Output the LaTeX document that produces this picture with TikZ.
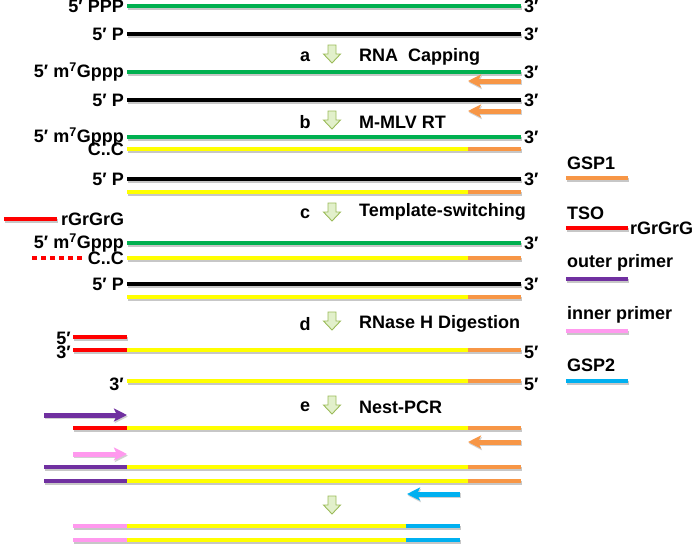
\documentclass[tikz,border=0pt]{standalone}
\usepackage{fontspec}
\setmainfont{Liberation Sans}
\usetikzlibrary{arrows.meta}
\definecolor{rnagreen}{HTML}{00B050}
\definecolor{cdnayellow}{HTML}{FFFF00}
\definecolor{gsporange}{HTML}{F79646}
\definecolor{tsored}{HTML}{FF0000}
\definecolor{outerpurple}{HTML}{7030A0}
\definecolor{innerpink}{HTML}{FF99EE}
\definecolor{gspblue}{HTML}{00B0F0}
\definecolor{stepfill}{HTML}{E2F0CB}
\definecolor{stepedge}{HTML}{9BBB59}

\tikzset{
  strand/.style={line width=4pt, line cap=butt,
    preaction={draw=black!22, line width=4pt,
      transform canvas={shift={(0.8pt,-1.6pt)}}}},
  primer/.style={line width=5pt, -{Stealth[length=13pt,width=13pt,inset=3pt]},
    preaction={draw=black!18, line width=5pt,
      transform canvas={shift={(0.8pt,-1.6pt)}}}},
  lbl/.style={font=\bfseries\fontsize{18}{21}\selectfont, inner sep=1pt},
  steparrow/.pic={
    \draw[stepedge, fill=stepfill, line width=0.9pt, line join=miter]
      (-4,-9) -- (4,-9) -- (4,0) -- (8.5,0) -- (0,9) -- (-8.5,0) -- (-4,0) -- cycle;}
}

\begin{document}
\begin{tikzpicture}[x=1pt, y=-1pt]
  \useasboundingbox (0,0) rectangle (692,549);

  % RNA before capping
  \draw[strand, rnagreen] (127,6) -- (521,6);
  \node[lbl, anchor=east] (l1) at (125,6) {5′ PPP};
  \node[lbl, anchor=west] (r1) at (523,6) {3′};
  \draw[strand, black] (127,34) -- (521,34);
  \node[lbl, anchor=east] (l2) at (125,34) {5′ P};
  \node[lbl, anchor=west] (r2) at (523,34) {3′};

  % step arrows
  \foreach \yy in {54,120,212,321,405,505}
    \pic at (332,\yy) {steparrow};

  \node[lbl] (sa) at (305,57) {a};
  \node[lbl, anchor=west] (ta) at (358,57) {RNA\ \ Capping};

  % capped RNA
  \draw[strand, rnagreen] (127,72) -- (521,72);
  \node[lbl, anchor=east] (l3) at (125,72) {5′ m\textsuperscript{7}Gppp};
  \node[lbl, anchor=west] (r3) at (523,72) {3′};
  \draw[primer, gsporange] (521,81) -- (468,81);
  \draw[strand, black] (127,100) -- (521,100);
  \node[lbl, anchor=east] (l4) at (125,100) {5′ P};
  \node[lbl, anchor=west] (r4) at (523,100) {3′};
  \draw[primer, gsporange] (521,111) -- (468,111);

  \node[lbl] (sb) at (305,122) {b};
  \node[lbl, anchor=west] (tb) at (358,122) {M-MLV RT};

  % reverse transcription
  \draw[strand, rnagreen] (127,137) -- (521,137);
  \node[lbl, anchor=east] (l5) at (125,137) {5′ m\textsuperscript{7}Gppp};
  \node[lbl, anchor=west] (r5) at (523,137) {3′};
  \draw[strand, cdnayellow] (127,149) -- (468,149);
  \draw[strand, gsporange] (468,149) -- (521,149);
  \node[lbl, anchor=east] (l6) at (125,149) {C..C};
  \draw[strand, black] (127,179) -- (521,179);
  \node[lbl, anchor=east] (l7) at (125,179) {5′ P};
  \node[lbl, anchor=west] (r7) at (523,179) {3′};
  \draw[strand, cdnayellow] (127,192) -- (468,192);
  \draw[strand, gsporange] (468,192) -- (521,192);

  \node[lbl] (sc) at (305,214) {c};
  \node[lbl, anchor=west] (tc) at (358,212) {Template-switching};
  \draw[strand, tsored] (4,219) -- (57,219);
  \node[lbl, anchor=west] (tso1) at (60,219) {rGrGrG};

  % template switching
  \draw[strand, rnagreen] (127,243) -- (521,243);
  \node[lbl, anchor=east] (l8) at (125,243) {5′ m\textsuperscript{7}Gppp};
  \node[lbl, anchor=west] (r8) at (523,243) {3′};
  \draw[line width=4pt, tsored, dash pattern=on 5pt off 4pt] (32,258) -- (82,258);
  \draw[strand, cdnayellow] (127,258) -- (468,258);
  \draw[strand, gsporange] (468,258) -- (521,258);
  \node[lbl, anchor=east] (l9) at (125,258) {C..C};
  \draw[strand, black] (127,284) -- (521,284);
  \node[lbl, anchor=east] (l10) at (125,284) {5′ P};
  \node[lbl, anchor=west] (r10) at (523,284) {3′};
  \draw[strand, cdnayellow] (127,297) -- (468,297);
  \draw[strand, gsporange] (468,297) -- (521,297);

  \node[lbl] (sd) at (305,324) {d};
  \node[lbl, anchor=west] (td) at (358,324) {RNase H Digestion};

  % after digestion
  \draw[strand, tsored] (73,337) -- (127,337);
  \node[lbl, anchor=east] (l11) at (72,338) {5′};
  \draw[strand, tsored] (73,350) -- (127,350);
  \draw[strand, cdnayellow] (127,350) -- (468,350);
  \draw[strand, gsporange] (468,350) -- (521,350);
  \node[lbl, anchor=east] (l12) at (72,352) {3′};
  \node[lbl, anchor=west] (r12) at (523,352) {5′};
  \draw[strand, cdnayellow] (127,381) -- (468,381);
  \draw[strand, gsporange] (468,381) -- (521,381);
  \node[lbl, anchor=east] (l13) at (125,384) {3′};
  \node[lbl, anchor=west] (r13) at (523,384) {5′};

  \node[lbl] (se) at (305,407) {e};
  \node[lbl, anchor=west] (te) at (358,407) {Nest-PCR};

  % first PCR
  \draw[primer, outerpurple] (44,415) -- (127,415);
  \draw[strand, tsored] (73,428) -- (127,428);
  \draw[strand, cdnayellow] (127,428) -- (468,428);
  \draw[strand, gsporange] (468,428) -- (521,428);
  \draw[primer, gsporange] (521,442) -- (468,442);

  % second PCR
  \draw[primer, innerpink] (73,454) -- (127,454);
  \foreach \yy in {467,481} {
    \draw[strand, outerpurple] (44,\yy) -- (127,\yy);
    \draw[strand, cdnayellow] (127,\yy) -- (468,\yy);
    \draw[strand, gsporange] (468,\yy) -- (521,\yy);
  }
  \draw[primer, gspblue] (460,494) -- (407,494);

  % product
  \foreach \yy in {526,540} {
    \draw[strand, innerpink] (73,\yy) -- (127,\yy);
    \draw[strand, cdnayellow] (127,\yy) -- (406,\yy);
    \draw[strand, gspblue] (406,\yy) -- (460,\yy);
  }

  % legend
  \node[lbl, anchor=west] (g1) at (566,163) {GSP1};
  \draw[strand, gsporange] (566,178) -- (628,178);
  \node[lbl, anchor=west] (g2) at (566,213) {TSO};
  \draw[strand, tsored] (566,228) -- (628,228);
  \node[lbl, anchor=west] (g2b) at (629,228) {rGrGrG};
  \node[lbl, anchor=west] (g3) at (566,263) {outer primer};
  \draw[strand, outerpurple] (566,279) -- (628,279);
  \node[lbl, anchor=west] (g4) at (566,315) {inner primer};
  \draw[strand, innerpink] (566,331) -- (628,331);
  \node[lbl, anchor=west] (g5) at (566,365) {GSP2};
  \draw[strand, gspblue] (566,381) -- (628,381);
\end{tikzpicture}
\end{document}
